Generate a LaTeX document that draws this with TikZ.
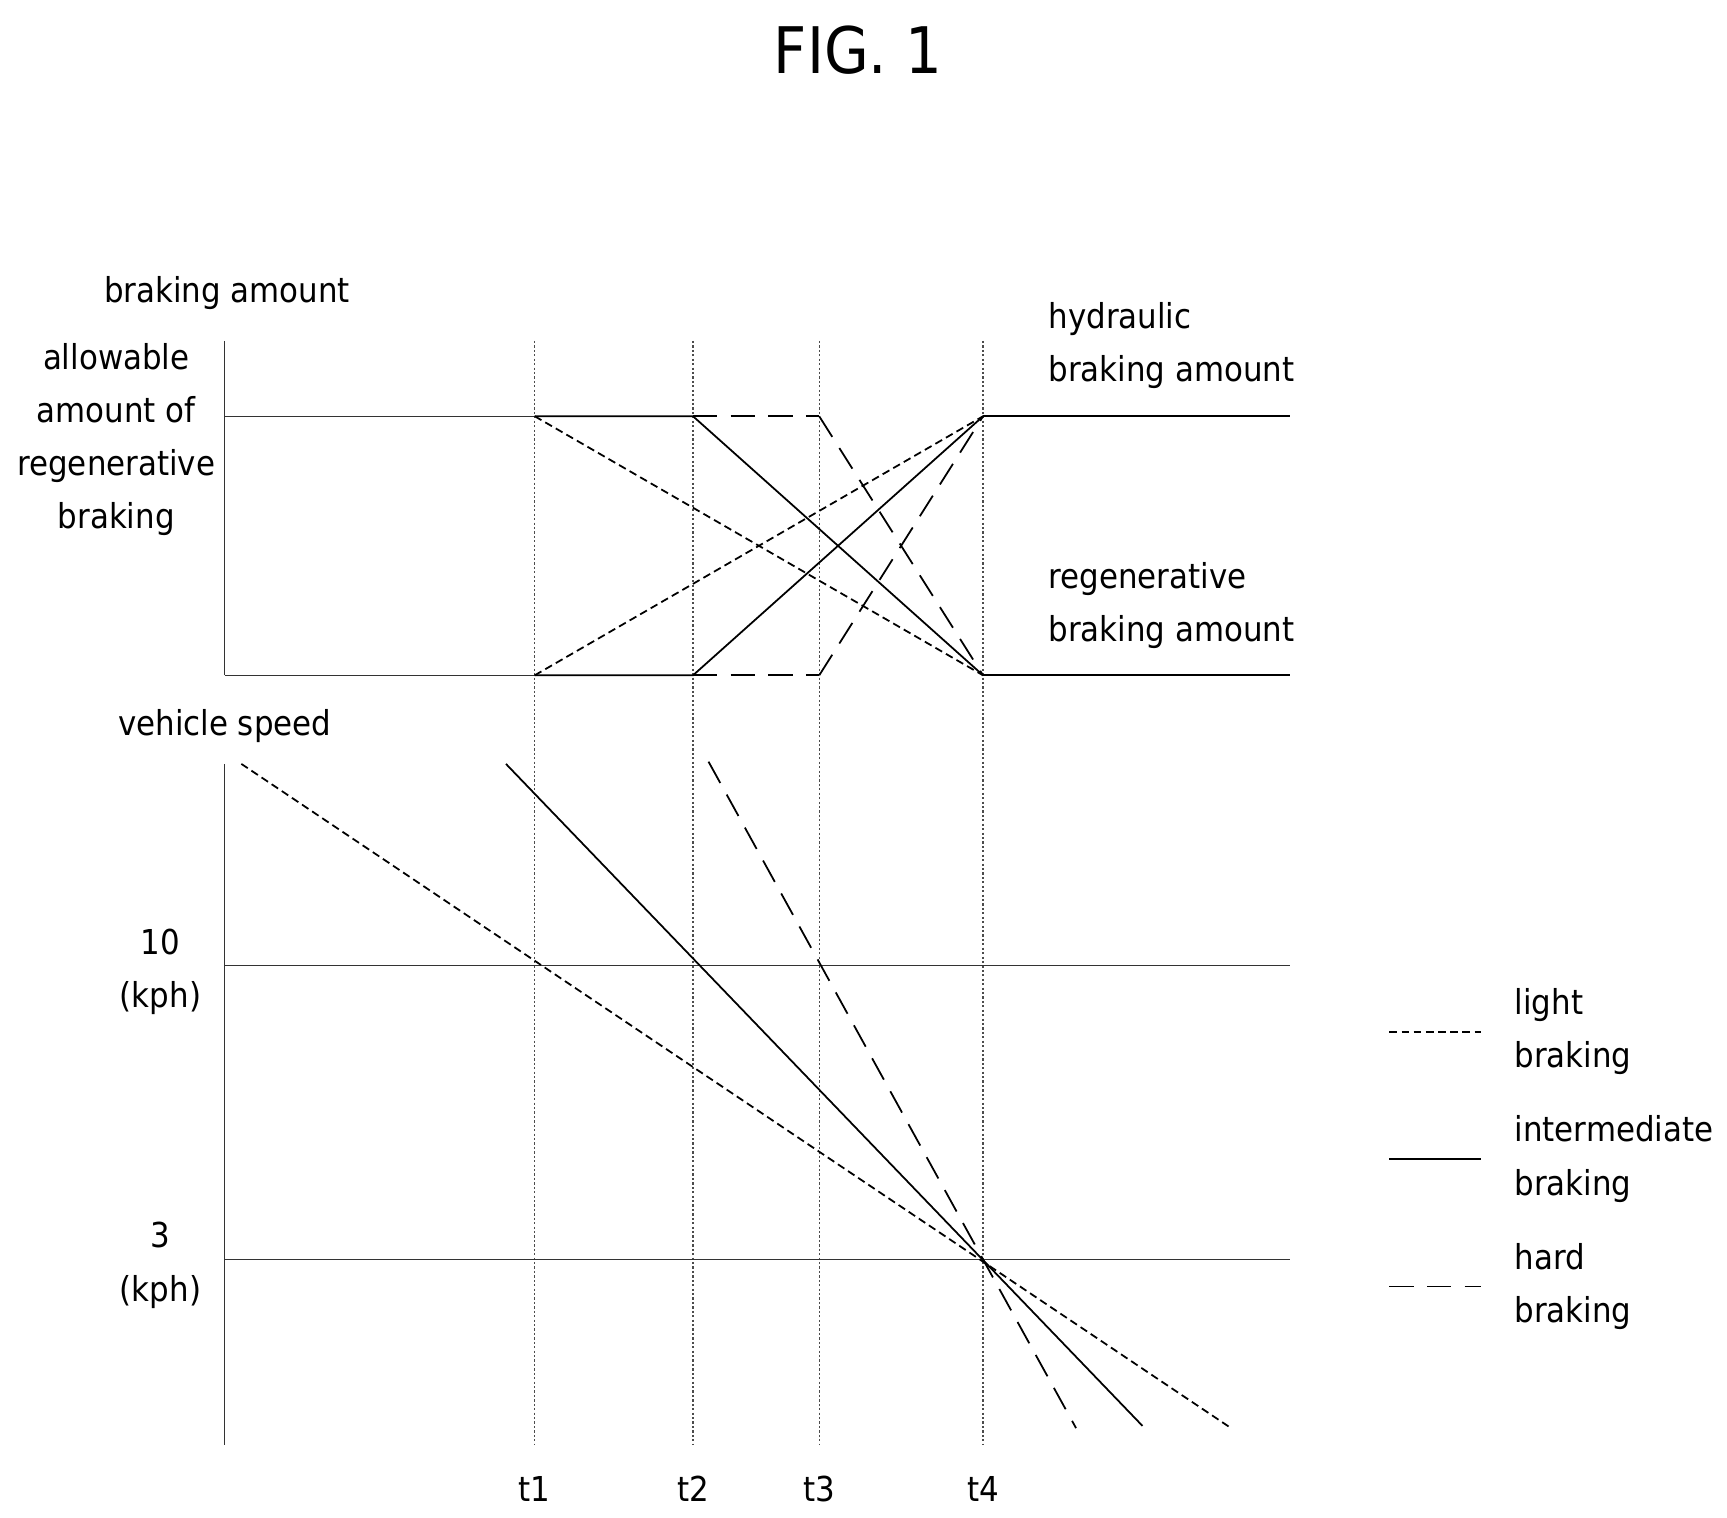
\documentclass[tikz,border=0pt]{standalone}
\usepackage{fontspec}
\setmainfont{DejaVu Sans Condensed}
\begin{document}
\begin{tikzpicture}[x=1pt,y=-1pt,
  ln/.style={line width=1.6pt},
  lt/.style={line width=1.6pt,dash pattern=on 7pt off 4pt},
  hd/.style={line width=1.6pt,dash pattern=on 22pt off 12pt},
  grid/.style={line width=1.1pt,dash pattern=on 2pt off 2pt,black!70},
  thin/.style={line width=1.1pt,black!80},
  lab/.style={font=\fontsize{31}{48}\selectfont,inner sep=0pt},
  labl/.style={lab,anchor=west,align=left},
  labc/.style={lab,align=center}]
\useasboundingbox (0,0) rectangle (1560,1371);
\node[lab] (title) at (775,45) {\fontsize{58}{64}\selectfont FIG. 1};
\node[lab] (ba) at (205,265) {braking amount};
\node[labc] (allow) at (105,397) {allowable\\amount of\\regenerative\\braking};
\node[labl] (hyd) at (947,312) {hydraulic\\braking amount};
\node[labl] (reg) at (947,547) {regenerative\\braking amount};
\node[lab] (vs) at (203,656) {vehicle speed};
\node[labc] (k10) at (145,878) {10\\(kph)};
\node[labc] (k3) at (145,1143) {3\\(kph)};
\foreach \n/\x in {t1/483,t2/626,t3/740,t4/888}{
  \coordinate (\n top) at (\x,308);
  \coordinate (\n bot) at (\x,1305);
  \coordinate (\n H) at (\x,376);
  \coordinate (\n L) at (\x,610);
  \draw[grid] (\n top) -- (\n bot);
  \node[lab] (\n) at (\x,1345) {\n};
}
\coordinate (ya1) at (203,308); \coordinate (ya2) at (203,610);
\coordinate (yb1) at (203,690); \coordinate (yb2) at (203,1305);
\draw[thin] (ya1) -- (ya2);
\draw[thin] (yb1) -- (yb2);
\coordinate (h0) at (203,376); \coordinate (l0) at (203,610);
\coordinate (hE) at (1165,376); \coordinate (lE) at (1165,610);
\coordinate (a0) at (203,872); \coordinate (aE) at (1165,872);
\coordinate (b0) at (203,1138); \coordinate (bE) at (1165,1138);
\draw[thin] (h0) -- (t1H); \draw[thin] (l0) -- (t1L);
\draw[thin] (a0) -- (aE); \draw[thin] (b0) -- (bE);
\draw[ln] (t4H) -- (hE); \draw[ln] (t4L) -- (lE);
\draw[lt] (t1H) -- (t4L); \draw[lt] (t1L) -- (t4H);
\draw[ln] (t1H) -- (t2H) -- (t4L); \draw[ln] (t1L) -- (t2L) -- (t4H);
\draw[hd] (t2H) -- (t3H); \draw[hd] (t3H) -- (t4L);
\draw[hd] (t2L) -- (t3L); \draw[hd] (t3L) -- (t4H);
\coordinate (s1a) at (218,690); \coordinate (s1b) at (1112,1290);
\coordinate (s2a) at (457,690); \coordinate (s2b) at (1032,1288);
\coordinate (s3a) at (640,688); \coordinate (s3b) at (972,1290);
\draw[lt] (s1a) -- (s1b);
\draw[ln] (s2a) -- (s2b);
\draw[hd] (s3a) -- (s3b);
\foreach \n/\y/\st/\a/\b in {lg1/932/lt/light/braking,lg2/1047/ln/intermediate/braking,lg3/1162/hd/hard/braking}{
  \coordinate (\n a) at (1255,\y); \coordinate (\n b) at (1338,\y);
  \draw[\st] (\n a) -- (\n b);
  \node[labl] (\n) at (1368,\y) {\a\\\b};
}
\end{tikzpicture}
\end{document}
